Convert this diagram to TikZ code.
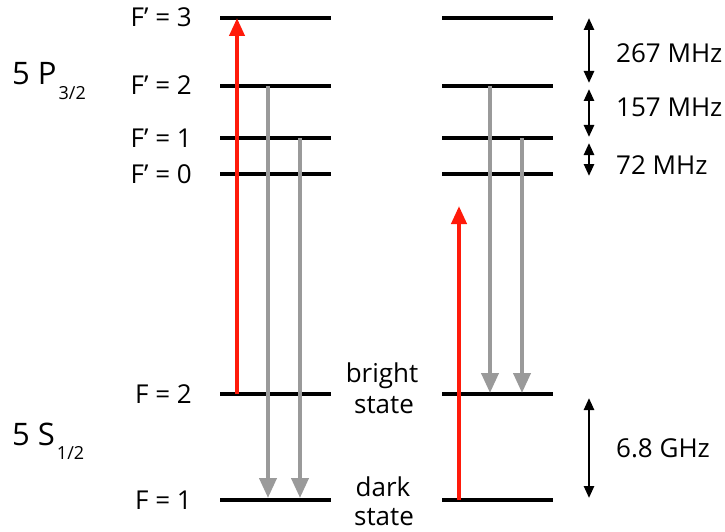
\documentclass[tikz,border=0pt]{standalone}
\usepackage{fontspec}
\setmainfont{Open Sans}
\usetikzlibrary{arrows.meta}
\definecolor{laser}{HTML}{FF1A0A}
\definecolor{decay}{HTML}{9A9A9A}
\tikzset{
  level/.style={line width=4pt},
  pump/.style={draw=laser, line width=4pt, -{Triangle[length=18pt,width=15pt]}},
  fall/.style={draw=decay, line width=4pt, -{Triangle[length=20pt,width=17pt]}},
  gap/.style={draw=black, line width=2.5pt, {Triangle[length=12pt,width=10pt]}-{Triangle[length=12pt,width=10pt]}},
  lab/.style={inner sep=0pt, font=\fontsize{26}{31}\selectfont},
  big/.style={inner sep=0pt, font=\fontsize{31}{36}\selectfont},
}
\newcommand{\subidx}[1]{\hspace{2pt}\raisebox{-14pt}{\fontsize{18}{20}\selectfont #1}}
\begin{document}
\begin{tikzpicture}[x=1pt,y=-1pt]
\useasboundingbox (0,0) rectangle (725,532);
% levels
\foreach \n/\y in {Lthree/18,Ltwo/86,Lone/138,Lzero/174,LFtwo/394,LFone/500}{
  \coordinate (\n a) at (220,\y); \coordinate (\n b) at (331,\y);
  \draw[level] (\n a) -- (\n b);
}
\foreach \n/\y in {Rthree/18,Rtwo/86,Rone/138,Rzero/174,RFtwo/394,RFone/500}{
  \coordinate (\n a) at (442,\y); \coordinate (\n b) at (553,\y);
  \draw[level] (\n a) -- (\n b);
}
% level labels
\node[lab, anchor=base east] (l3) at (192,27) {F’ = 3};
\node[lab, anchor=base east] (l2) at (192,95) {F’ = 2};
\node[lab, anchor=base east] (l1) at (192,147) {F’ = 1};
\node[lab, anchor=base east] (l0) at (192,183) {F’ = 0};
\node[lab, anchor=base east] (g2) at (192,403) {F = 2};
\node[lab, anchor=base east] (g1) at (192,509) {F = 1};
\node[big, anchor=base west] (P) at (12,85) {5 P\subidx{3/2}};
\node[big, anchor=base west] (S) at (12,445) {5 S\subidx{1/2}};
% state labels
\node[lab, anchor=base] (bright1) at (382,382) {bright};
\node[lab, anchor=base] (bright2) at (384,413) {state};
\node[lab, anchor=base] (dark1) at (383,496) {dark};
\node[lab, anchor=base] (dark2) at (384,525) {state};
% transitions
\coordinate (p1s) at (237,394); \coordinate (p1e) at (237,18);
\coordinate (f1s) at (268,86);  \coordinate (f1e) at (268,498);
\coordinate (f2s) at (300,138); \coordinate (f2e) at (300,498);
\coordinate (p2s) at (459,500); \coordinate (p2e) at (459,206);
\coordinate (f3s) at (490,86);  \coordinate (f3e) at (490,393);
\coordinate (f4s) at (522,138); \coordinate (f4e) at (522,393);
\draw[pump] (p1s) -- (p1e);
\draw[fall] (f1s) -- (f1e);
\draw[fall] (f2s) -- (f2e);
\draw[pump] (p2s) -- (p2e);
\draw[fall] (f3s) -- (f3e);
\draw[fall] (f4s) -- (f4e);
% splittings
\coordinate (d1a) at (589,18);  \coordinate (d1b) at (589,83);
\coordinate (d2a) at (589,89);  \coordinate (d2b) at (589,137);
\coordinate (d3a) at (589,143); \coordinate (d3b) at (589,176);
\coordinate (d4a) at (589,398); \coordinate (d4b) at (589,498);
\draw[gap] (d1a) -- (d1b);
\draw[gap] (d2a) -- (d2b);
\draw[gap] (d3a) -- (d3b);
\draw[gap] (d4a) -- (d4b);
\node[lab, anchor=base west] (s1) at (616,63) {267 MHz};
\node[lab, anchor=base west] (s2) at (616,117) {157 MHz};
\node[lab, anchor=base west] (s3) at (616,174) {72 MHz};
\node[lab, anchor=base west] (s4) at (616,457) {6.8 GHz};
\end{tikzpicture}
\end{document}
